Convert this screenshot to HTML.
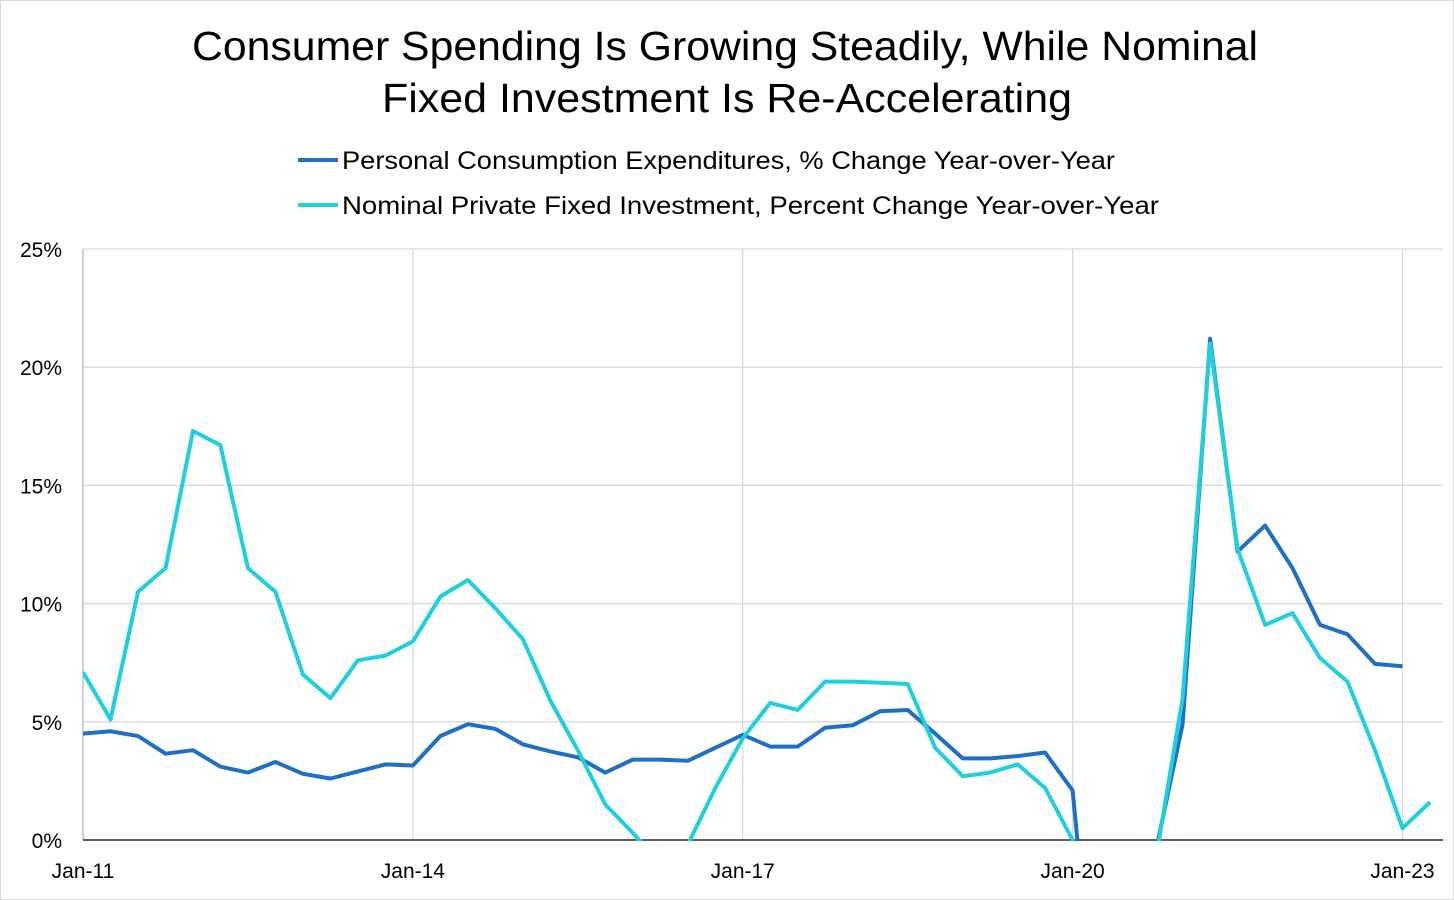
<!DOCTYPE html>
<html><head><meta charset="utf-8"><style>
html,body{margin:0;padding:0;background:#fff;width:1454px;height:900px;overflow:hidden;}
svg{display:block;font-family:"Liberation Sans",sans-serif;}
</style></head><body>
<svg id="chart" width="1454" height="900">
<rect x="0.5" y="0.5" width="1453" height="899" fill="#fff" stroke="#d9d9d9"/>
<text x="192" y="60" textLength="1066" lengthAdjust="spacingAndGlyphs" font-size="41" fill="#000">Consumer Spending Is Growing Steadily, While Nominal</text>
<text x="382" y="112" textLength="690" lengthAdjust="spacingAndGlyphs" font-size="41" fill="#000">Fixed Investment Is Re-Accelerating</text>
<g>
<line x1="298" y1="160" x2="338" y2="160" stroke="#1f6fc5" stroke-width="4"/>
<text x="342" y="169" textLength="773" lengthAdjust="spacingAndGlyphs" font-size="25">Personal Consumption Expenditures, % Change Year-over-Year</text>
<line x1="298" y1="205" x2="338" y2="205" stroke="#1fd0dc" stroke-width="4"/>
<text x="342" y="214" textLength="817" lengthAdjust="spacingAndGlyphs" font-size="25">Nominal Private Fixed Investment, Percent Change Year-over-Year</text>
</g>
<g id="grid"></g>
<g id="axes"></g>
<defs><clipPath id="clip"><rect x="83" y="247" width="1360" height="594"/></clipPath></defs>
<g id="series" clip-path="url(#clip)"></g>
</svg>
<script>
const yTicks=[0,5,10,15,20,25];
const yTickLabels=["0%","5%","10%","15%","20%","25%"];
const xTickIdx=[0,12,24,36,48];
const xTickLabels=["Jan-11","Jan-14","Jan-17","Jan-20","Jan-23"];
const pce=[4.5,4.6,4.4,3.65,3.8,3.1,2.85,3.3,2.8,2.6,2.9,3.2,3.15,4.4,4.9,4.7,4.05,3.75,3.5,2.85,3.4,3.4,3.35,3.9,4.45,3.95,3.95,4.75,4.85,5.45,5.5,4.5,3.45,3.45,3.55,3.7,2.1,-10,-2.5,-0.6,4.9,21.2,12.2,13.3,11.5,9.1,8.7,7.45,7.35];
const investment=[7.1,5.1,10.5,11.5,17.3,16.7,11.5,10.5,7.0,6.0,7.6,7.8,8.4,10.3,11.0,9.8,8.5,5.9,3.8,1.5,0.3,-1.0,-0.2,2.2,4.3,5.8,5.5,6.7,6.7,6.65,6.6,3.9,2.7,2.85,3.2,2.2,0.0,-10,-5,-1,6.0,21.0,12.3,9.1,9.6,7.7,6.7,3.8,0.5,1.6];
const NS="http://www.w3.org/2000/svg";
const x0=83,x1=1402.5,y0=840,y1=249;
const xs=i=>x0+(x1-x0)*i/48;
const ys=v=>y0-(y0-y1)*v/25;
function mk(tag,attrs,parent){const e=document.createElementNS(NS,tag);for(const k in attrs)e.setAttribute(k,attrs[k]);parent.appendChild(e);return e;}
const grid=document.getElementById('grid'),axes=document.getElementById('axes'),series=document.getElementById('series');
yTicks.forEach((t,i)=>{
  if(t>0){const l=mk('line',{x1:x0,x2:1443,y1:ys(t),y2:ys(t),stroke:'#d9d9d9','stroke-width':1.3},grid);
  
  }
  const tx=mk('text',{x:62,y:ys(t)+8,'text-anchor':'end','font-size':21},axes);tx.textContent=yTickLabels[i];
  
  
});
xTickIdx.forEach((q,i)=>{
  if(q>0){const l=mk('line',{x1:xs(q),x2:xs(q),y1:y1,y2:y0,stroke:'#d9d9d9','stroke-width':1.3},grid);
  
  }
  const tx=mk('text',{x:xs(q),y:878,'text-anchor':'middle','font-size':21},axes);tx.textContent=xTickLabels[i];
  
  
});
const ax=mk('line',{x1:x0,x2:x0,y1:y1,y2:y0,stroke:'#bfbfbf','stroke-width':1.5},axes);


const bx=mk('line',{x1:x0,x2:1443,y1:y0,y2:y0,stroke:'#000','stroke-width':1.3},axes);


function drawLine(vals,color,name){
  const d=vals.map((v,i)=>(i?'L':'M')+xs(i).toFixed(1)+','+ys(v).toFixed(1)).join('');
  const p=mk('path',{d:d,fill:'none',stroke:color,'stroke-width':4,'stroke-linejoin':'round'},series);
  
  
}
drawLine(pce,'#1f6fc5','pce-line');
drawLine(investment,'#1fd0dc','investment-line');
</script>
</body></html>
